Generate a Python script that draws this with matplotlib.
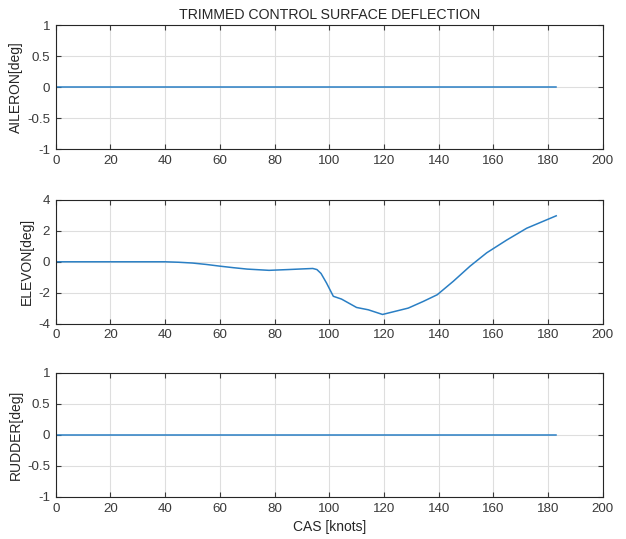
import numpy as np
import matplotlib
matplotlib.use("Agg")
import matplotlib.pyplot as plt

plt.rcParams['font.family'] = ['Liberation Sans', 'DejaVu Sans']

# trim results
cas = [0, 10, 20, 30, 40, 45, 50, 55, 60, 65, 70, 78, 85, 90, 94, 95.5, 97, 99,
       101.5, 104.5, 110, 114.3, 119.5, 123.4, 128.9, 134.4, 139.5, 145.4,
       151.5, 157.6, 164.9, 172.2, 183]
elevon = [0, 0, 0, 0, 0, -0.03, -0.08, -0.17, -0.28, -0.38, -0.47, -0.55, -0.5,
          -0.46, -0.43, -0.5, -0.75, -1.36, -2.22, -2.40, -2.94, -3.09, -3.39,
          -3.22, -2.98, -2.55, -2.12, -1.25, -0.28, 0.58, 1.40, 2.16, 2.96]
aileron = [0.0] * len(cas)
rudder = [0.0] * len(cas)

xticks = [0, 20, 40, 60, 80, 100, 120, 140, 160, 180, 200]
small_ticks = [-1, -0.5, 0, 0.5, 1]
small_labels = ['-1', '-0.5', '0', '0.5', '1']
elev_ticks = [-4, -2, 0, 2, 4]

dark = '#262626'
blue = '#2a7fc4'

fig = plt.figure(figsize=(6.26, 5.39), dpi=100)
l, w, h = 0.089, 0.8738, 0.2306
ax1 = fig.add_axes([l, 0.723, w, h])
ax2 = fig.add_axes([l, 0.399, w, h])
ax3 = fig.add_axes([l, 0.078, w, h])

panels = [(ax1, aileron, 'AILERON[deg]', (-1, 1), small_ticks, small_labels),
          (ax2, elevon, 'ELEVON[deg]', (-4, 4), elev_ticks, ['-4', '-2', '0', '2', '4']),
          (ax3, rudder, 'RUDDER[deg]', (-1, 1), small_ticks, small_labels)]

for ax, vals, lab, lim, yt, ytl in panels:
    ax.plot(cas, vals, color=blue, lw=1.1)
    ax.set_xlim(0, 200)
    ax.set_ylim(*lim)
    ax.set_xticks(xticks)
    ax.set_xticklabels([str(t) for t in xticks])
    ax.set_yticks(yt)
    ax.set_yticklabels(ytl)
    ax.grid(True, color='#dedede', lw=0.8)
    ax.set_axisbelow(True)
    ax.tick_params(direction='in', top=True, right=True, length=3.5, width=0.8,
                   colors='#3a3a3a', labelsize=9.6, pad=4)
    for s in ax.spines.values():
        s.set_color(dark)
        s.set_linewidth(0.8)
    ax.set_ylabel(lab, fontsize=10, color=dark, labelpad=3)

ax1.set_title('TRIMMED CONTROL SURFACE DEFLECTION', fontsize=10.2, color=dark, pad=4)
ax3.set_xlabel('CAS [knots]', fontsize=10, color=dark, labelpad=4)

fig.savefig('out.png', dpi=100)
